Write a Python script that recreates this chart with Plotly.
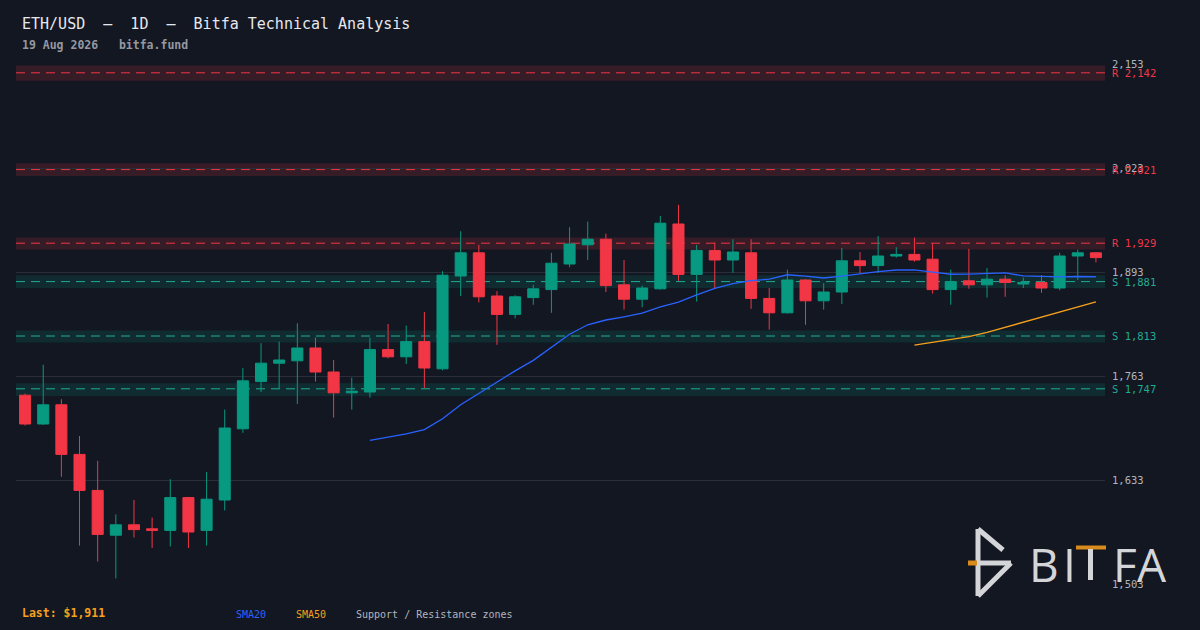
import pandas as pd
import plotly.graph_objects as go

# daily candles, ETH/USD (60 sessions)
opens = [1739, 1703, 1727, 1665, 1620, 1564, 1577, 1572, 1570, 1611,
         1570, 1608, 1697, 1756, 1779, 1782, 1798, 1768, 1742, 1743,
         1796, 1787, 1806, 1772, 1888, 1917, 1863, 1840, 1861, 1871,
         1903, 1927, 1934, 1877, 1859, 1872, 1953, 1890, 1920, 1908,
         1917, 1860, 1842, 1883, 1857, 1868, 1907, 1901, 1913, 1915,
         1909, 1871, 1882, 1877, 1884, 1878, 1880, 1873, 1913, 1917]
highs = [1741, 1777, 1734, 1688, 1657, 1590, 1608, 1586, 1634, 1612,
         1643, 1721, 1773, 1804, 1806, 1829, 1811, 1783, 1761, 1811,
         1828, 1826, 1843, 1894, 1944, 1927, 1869, 1864, 1877, 1917,
         1949, 1956, 1941, 1908, 1876, 1963, 1977, 1927, 1930, 1934,
         1934, 1873, 1896, 1884, 1879, 1923, 1918, 1938, 1924, 1936,
         1929, 1896, 1922, 1898, 1889, 1886, 1889, 1917, 1921, 1918]
lows = [1701, 1702, 1637, 1551, 1531, 1510, 1561, 1548, 1550, 1548,
        1551, 1595, 1692, 1743, 1748, 1728, 1756, 1711, 1721, 1736,
        1785, 1778, 1748, 1770, 1863, 1855, 1802, 1835, 1852, 1842,
        1899, 1908, 1868, 1846, 1849, 1871, 1882, 1856, 1872, 1892,
        1847, 1821, 1841, 1827, 1846, 1853, 1891, 1892, 1911, 1906,
        1866, 1852, 1872, 1861, 1862, 1873, 1867, 1870, 1883, 1905]
closes = [1703, 1727, 1665, 1620, 1565, 1577, 1571, 1570, 1611, 1568,
          1609, 1698, 1757, 1779, 1783, 1798, 1768, 1742, 1744, 1796,
          1787, 1806, 1773, 1889, 1917, 1862, 1840, 1862, 1872, 1904,
          1928, 1934, 1876, 1859, 1873, 1954, 1890, 1920, 1908, 1918,
          1860, 1842, 1883, 1857, 1868, 1907, 1901, 1913, 1915, 1908,
          1871, 1881, 1877, 1884, 1880, 1880, 1873, 1913, 1917, 1911]

# support / resistance zones
zone_kind = ["R", "R", "R", "S", "S", "S"]
zone_level = [2142, 2021, 1929, 1881, 1813, 1747]
zone_lo = [2132, 2013, 1921, 1873, 1805, 1738]
zone_hi = [2151, 2029, 1936, 1889, 1820, 1754]

y_ticks = [1503, 1633, 1763, 1893, 2023, 2153]

BG = "#131722"
GREEN = "#089981"
RED = "#f23645"
TEAL = "#22ab94"
BLUE = "#2962ff"
ORANGE = "#f5a11c"
MONO = "DejaVu Sans Mono"

W, H = 1200, 630
L, R, T, B = 16, 95, 64, 46


def px_x(x):
    return (x - L) / (W - L - R)


def px_y(y):
    return (H - B - y) / (H - T - B)


idx = list(range(len(closes)))
s = pd.Series(closes)
sma20 = s.rolling(20).mean()
sma50 = s.rolling(50).mean()

fig = go.Figure()

fig.add_trace(go.Candlestick(
    x=idx, open=opens, high=highs, low=lows, close=closes,
    increasing=dict(line=dict(color=GREEN, width=1), fillcolor=GREEN),
    decreasing=dict(line=dict(color=RED, width=1), fillcolor=RED),
    hoverinfo="skip", showlegend=False,
))
fig.add_trace(go.Scatter(x=idx, y=sma20, mode="lines",
                         line=dict(color=BLUE, width=1.3),
                         hoverinfo="skip", showlegend=False))
fig.add_trace(go.Scatter(x=idx, y=sma50, mode="lines",
                         line=dict(color=ORANGE, width=1.3),
                         hoverinfo="skip", showlegend=False))

shapes = []
annotations = []
for kind, lvl, lo, hi in zip(zone_kind, zone_level, zone_lo, zone_hi):
    col = RED if kind == "R" else TEAL
    fill = "rgba(242,54,69,0.16)" if kind == "R" else "rgba(8,153,129,0.16)"
    shapes.append(dict(type="rect", xref="paper", yref="y", x0=0, x1=1,
                       y0=lo, y1=hi, fillcolor=fill, line_width=0,
                       layer="below"))
    shapes.append(dict(type="line", xref="paper", yref="y", x0=0, x1=1,
                       y0=lvl, y1=lvl,
                       line=dict(color=col, width=1, dash="9px,6px"),
                       layer="below"))
    annotations.append(dict(xref="paper", yref="y", x=1, y=lvl,
                            xanchor="left", yanchor="middle", xshift=5,
                            text=f"{kind} {lvl:,}", showarrow=False,
                            font=dict(family=MONO, size=10.5, color=col)))

# header
annotations.append(dict(xref="paper", yref="paper", x=px_x(20), y=px_y(24),
                        xanchor="left", yanchor="middle", showarrow=False,
                        text="ETH/USD  –  1D  –  Bitfa Technical Analysis",
                        font=dict(family=MONO, size=15, color="#e6e8ee")))
annotations.append(dict(xref="paper", yref="paper", x=px_x(20), y=px_y(45),
                        xanchor="left", yanchor="middle", showarrow=False,
                        text="<b>19 Aug 2026   bitfa.fund</b>",
                        font=dict(family=MONO, size=11.5, color="#9598a1")))

# footer
annotations.append(dict(xref="paper", yref="paper", x=px_x(20), y=px_y(613),
                        xanchor="left", yanchor="middle", showarrow=False,
                        text="<b>Last: $1,911</b>",
                        font=dict(family=MONO, size=11.5, color=ORANGE)))
for txt, xx, col in [("SMA20", 234, BLUE), ("SMA50", 294, ORANGE),
                     ("Support / Resistance zones", 354, "#b2b5be")]:
    annotations.append(dict(xref="paper", yref="paper", x=px_x(xx),
                            y=px_y(614.5), xanchor="left", yanchor="middle",
                            showarrow=False, text=txt,
                            font=dict(family=MONO, size=10, color=col)))

# watermark logo
LOGO = "#d4d5d8"
LOGO_OR = "#d98b1c"


def seg(x0, y0, x1, y1, col=LOGO, w=5):
    return dict(type="line", xref="paper", yref="paper",
                x0=px_x(x0), y0=px_y(y0), x1=px_x(x1), y1=px_y(y1),
                line=dict(color=col, width=w), layer="above")


shapes += [
    seg(978, 529, 978, 596),
    seg(978, 529, 1003, 550),
    seg(978, 563, 1011, 563),
    seg(1011, 563, 978, 596),
    seg(968, 563, 977, 563, LOGO_OR),
    seg(1076, 547.5, 1106, 547.5, LOGO_OR, 4),
    seg(1090.5, 549, 1090.5, 580),
]
for ch, cx in [("B", 1044), ("I", 1069), ("F", 1125), ("A", 1152)]:
    annotations.append(dict(xref="paper", yref="paper", x=px_x(cx),
                            y=px_y(564), xanchor="center", yanchor="middle",
                            showarrow=False, text=ch,
                            font=dict(family="Open Sans", size=46, color=LOGO)))

fig.update_layout(
    width=W, height=H,
    margin=dict(l=L, r=R, t=T, b=B),
    paper_bgcolor=BG, plot_bgcolor=BG,
    showlegend=False,
    boxgap=0.13, boxgroupgap=0.3,
    shapes=shapes, annotations=annotations,
    xaxis=dict(range=[-0.5, 59.5], visible=False, rangeslider_visible=False,
               fixedrange=True),
    yaxis=dict(range=[1503, 2153], side="right", tickvals=y_ticks,
               ticktext=[f"{v:,}" for v in y_ticks], showgrid=True,
               gridcolor="#2a2e39", gridwidth=1, zeroline=False,
               showline=False, ticks="", ticklabelstandoff=6,
               tickfont=dict(family=MONO, size=10.5, color="#b2b5be"),
               fixedrange=True),
)

fig.write_html("out.html", config={"displayModeBar": False},
               post_script="document.body.style.margin='0';"
                           "document.body.style.overflow='hidden';")
